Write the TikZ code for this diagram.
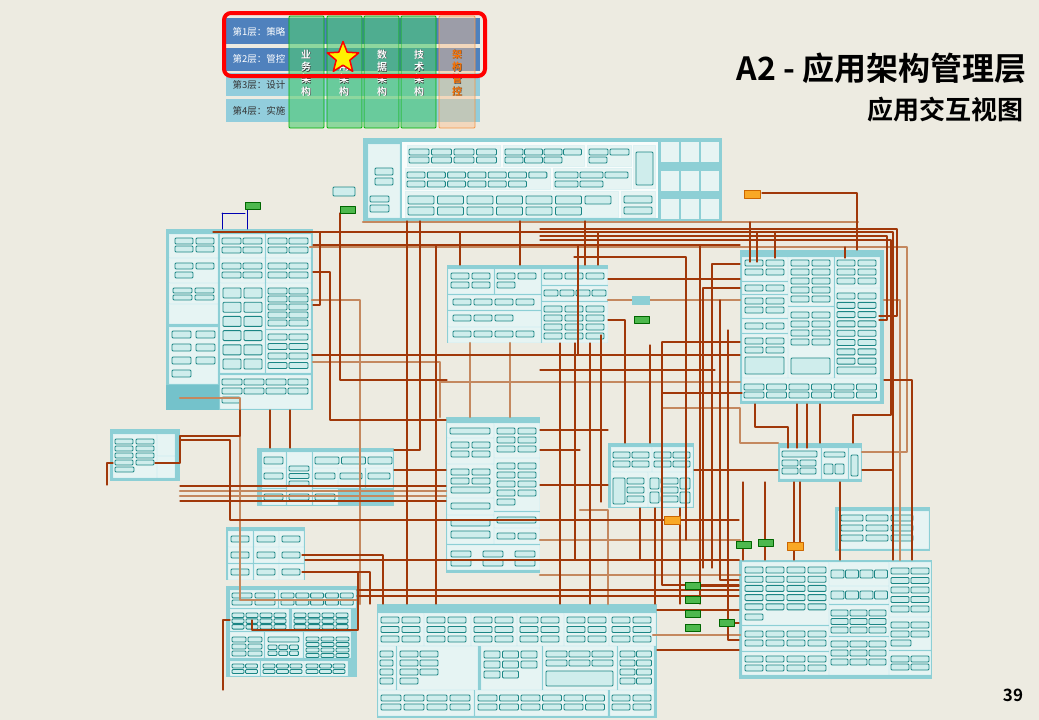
\documentclass[tikz,border=0pt]{standalone}
\usepackage{fontspec}
\newfontfamily\cjk{Noto Sans CJK SC}[BoldFont={Noto Sans CJK SC Bold}]
\usetikzlibrary{shapes.geometric}
\definecolor{bgbeige}{HTML}{EDEBE1}
\definecolor{pnlteal}{HTML}{8DCFD5}
\definecolor{pnldeep}{HTML}{74C2CB}
\definecolor{subpale}{HTML}{E6F4F3}
\definecolor{bxfill}{HTML}{CFEDEC}
\definecolor{bxedge}{HTML}{1A8584}
\definecolor{lnkdark}{HTML}{A0380A}
\definecolor{lnklight}{HTML}{C4885F}
\definecolor{lyrdark}{HTML}{4F81BD}
\definecolor{lyrlight}{HTML}{92CDDC}
\definecolor{colgreen}{HTML}{4FCB72}
\definecolor{colorange}{HTML}{F79646}
\definecolor{mkgreen}{HTML}{4DB84D}
\definecolor{mkorange}{HTML}{F9A825}
\tikzset{
  every picture/.style={line cap=round, line join=round},
  pnl/.style={fill=pnlteal},
  subp/.style={fill=subpale, draw=white!70!pnlteal, line width=0.6pt},
  bx/.style={fill=bxfill, draw=bxedge, line width=0.9pt, rounded corners=1pt},
  lnkd/.style={draw=lnkdark, line width=1.3pt},
  lnkl/.style={draw=lnklight, line width=2.4pt},
  mkg/.style={fill=mkgreen, draw=green!40!black, line width=0.6pt},
  mko/.style={fill=mkorange, draw=orange!80!black, line width=0.6pt},
  lyr/.style={anchor=west, font=\cjk\fontsize{9.5}{10}\selectfont},
  colbar/.style={fill=colgreen, fill opacity=0.6, draw=green!70!black, line width=0.8pt},
  colch/.style={font=\cjk\bfseries\fontsize{10}{11}\selectfont},
}
% panel / sub-panel / box helpers (pixel units)
\newcommand{\pnl}[4]{\fill[pnl] (#1,#2) rectangle (#3,#4);}
\newcommand{\subpnl}[4]{\draw[subp] (#1,#2) rectangle (#3,#4);}
\newcommand{\onebx}[4]{\draw[bx] (#1,#2) rectangle (#3,#4);}
% x0, y0, cols, rows, w, h, dx, dy
\newcommand{\bxgrid}[8]{%
  \foreach \ci in {1,...,#3}{\foreach \rj in {1,...,#4}{%
    \draw[bx] ({#1+(\ci-1)*(#7)},{#2+(\rj-1)*(#8)}) rectangle ++(#5,#6);}}}

\begin{document}
\begin{tikzpicture}[x=1pt, y=-1pt]
  \fill[bgbeige] (0,0) rectangle (1039,720);
  \useasboundingbox (0,0) rectangle (1039,720);
  % ---- top panel
  \pnl{363}{138}{722}{221}
  \subpnl{368}{144}{399}{217}
  \onebx{375}{168}{393}{175} \onebx{375}{178}{393}{185}
  \onebx{370}{196}{389}{202} \onebx{370}{205}{389}{212}
  \fill[white!70!subpale] (402,142) rectangle (658,218);
  \subpnl{407}{145}{500}{166} \bxgrid{409}{149}{4}{2}{20}{6}{22.5}{8}
  \subpnl{503}{145}{584}{166} \bxgrid{505}{149}{4}{1}{18}{6}{19.5}{8} \bxgrid{505}{157}{3}{1}{18}{6}{19.5}{8}
  \subpnl{587}{145}{631}{166} \bxgrid{589}{149}{2}{1}{19}{6}{21}{8} \onebx{589}{157}{607}{163}
  \subpnl{633}{145}{655}{188} \onebx{636}{152}{653}{185}
  \subpnl{405}{168}{550}{189} \bxgrid{407}{172}{7}{1}{18}{6}{20.3}{9} \bxgrid{407}{181}{6}{1}{18}{6}{20.3}{9}
  \subpnl{553}{168}{631}{189} \bxgrid{555}{172}{3}{1}{23}{6}{25}{9} \bxgrid{555}{181}{2}{1}{23}{6}{25}{9}
  \subpnl{405}{191}{618}{217} \bxgrid{408}{196}{7}{1}{26}{8}{29.5}{11} \bxgrid{408}{207}{6}{1}{26}{8}{29.5}{11}
  \subpnl{621}{191}{655}{217} \bxgrid{624}{196}{1}{2}{28}{7}{1}{11}
  \foreach \tx in {661,681,701}{\foreach \ty in {142,171,199}{\fill[subpale] (\tx,\ty) rectangle ++(18,20);}}
  % ---- left big panel
  \pnl{166}{229}{313}{410}
  \fill[pnldeep] (166,385) rectangle (219,410);
  \subpnl{169}{234}{217}{257} \bxgrid{175}{238}{2}{2}{18}{6}{21}{8}
  \subpnl{220}{234}{264}{257} \bxgrid{222}{238}{2}{2}{19}{6}{21}{9}
  \subpnl{266}{234}{310}{257} \bxgrid{268}{238}{2}{2}{19}{6}{21}{9}
  \subpnl{169}{258}{217}{282} \bxgrid{175}{263}{2}{1}{18}{6}{21}{8} \onebx{175}{272}{193}{278}
  \subpnl{220}{258}{264}{282} \bxgrid{222}{263}{2}{2}{19}{6}{21}{9}
  \subpnl{266}{258}{310}{282} \bxgrid{268}{263}{2}{2}{19}{6}{21}{9}
  \subpnl{169}{283}{217}{303} \bxgrid{173}{288}{2}{2}{19}{5}{22}{7}
  \subpnl{169}{304}{217}{323}
  \subpnl{220}{283}{264}{372} \bxgrid{223}{288}{2}{6}{18}{10}{21}{14.2}
  \subpnl{266}{283}{310}{328} \bxgrid{268}{288}{2}{5}{19}{6}{21}{8}
  \subpnl{266}{330}{310}{372} \bxgrid{268}{334}{2}{4}{19}{6}{21}{9.5}
  \subpnl{169}{327}{217}{383} \bxgrid{172}{331}{2}{3}{19}{7}{24}{13} \onebx{172}{370}{191}{377}
  \subpnl{220}{375}{310}{408} \bxgrid{222}{379}{4}{2}{20}{6}{22}{9} \onebx{222}{397}{240}{403}
  % ---- middle panel
  \pnl{447}{265}{608}{343}
  \subpnl{448}{269}{493}{293} \bxgrid{451}{273}{2}{2}{18}{6}{21}{9}
  \subpnl{495}{269}{540}{293} \bxgrid{497}{273}{2}{1}{18}{6}{21}{9} \onebx{497}{282}{515}{288}
  \subpnl{448}{295}{540}{309} \bxgrid{453}{299}{4}{1}{18}{6}{21}{9}
  \subpnl{448}{311}{540}{326} \bxgrid{453}{315}{3}{1}{18}{6}{21}{9}
  \subpnl{448}{327}{540}{342} \bxgrid{453}{331}{4}{1}{18}{6}{21}{9}
  \subpnl{542}{269}{607}{284} \bxgrid{544}{273}{3}{1}{18}{6}{21}{9}
  \subpnl{542}{286}{607}{300} \bxgrid{544}{290}{4}{1}{14}{6}{16}{9}
  \subpnl{542}{302}{607}{342} \bxgrid{544}{306}{3}{4}{18}{6}{21}{9}
  % ---- right panel
  \pnl{740}{250}{884}{404}
  \subpnl{742}{257}{787}{280} \bxgrid{745}{260}{2}{2}{18}{6}{21}{9}
  \subpnl{742}{282}{787}{293} \bxgrid{745}{285}{2}{1}{18}{6}{21}{9}
  \subpnl{742}{295}{787}{317} \bxgrid{745}{298}{2}{2}{18}{6}{21}{9}
  \subpnl{742}{319}{787}{332} \bxgrid{745}{323}{2}{1}{18}{6}{21}{9}
  \subpnl{742}{334}{787}{377} \bxgrid{745}{338}{2}{2}{18}{6}{21}{9} \onebx{745}{357}{784}{374}
  \subpnl{788}{257}{833}{305} \bxgrid{791}{260}{2}{5}{18}{6}{21}{9}
  \subpnl{788}{307}{833}{377} \bxgrid{791}{312}{2}{4}{18}{6}{21}{9} \onebx{791}{358}{830}{374}
  \subpnl{835}{257}{879}{287} \bxgrid{837}{260}{2}{3}{18}{6}{21}{9}
  \subpnl{835}{288}{879}{377} \bxgrid{837}{293}{2}{8}{18}{6}{21}{9.3} \onebx{837}{367}{876}{374}
  \subpnl{742}{378}{879}{400} \bxgrid{744}{384}{6}{2}{20}{6}{22.5}{8}
  % ---- middle lower panel
  \pnl{446}{417}{540}{573}
  \subpnl{447}{423}{493}{437} \onebx{450}{428}{490}{434}
  \subpnl{447}{438}{493}{463} \bxgrid{451}{442}{2}{2}{18}{6}{21}{9}
  \subpnl{447}{464}{493}{497} \bxgrid{451}{469}{2}{2}{18}{6}{21}{9} \onebx{451}{487}{490}{493}
  \subpnl{447}{498}{493}{514} \onebx{451}{503}{490}{509}
  \subpnl{447}{515}{493}{543} \onebx{451}{520}{490}{526} \onebx{451}{531}{490}{538}
  \subpnl{494}{423}{539}{457} \bxgrid{497}{428}{2}{3}{18}{6}{21}{9}
  \subpnl{494}{458}{539}{510} \bxgrid{497}{463}{2}{4}{18}{6}{21}{9} \onebx{497}{499}{515}{505}
  \subpnl{494}{512}{539}{527} \onebx{497}{517}{536}{523}
  \subpnl{494}{528}{539}{543} \bxgrid{497}{533}{2}{1}{18}{6}{21}{9}
  \subpnl{447}{545}{539}{569} \bxgrid{451}{551}{3}{2}{20}{6}{32}{9}
  % ---- small panels
  \pnl{110}{429}{180}{481}
  \subpnl{113}{434}{156}{477} \bxgrid{115}{439}{2}{4}{18}{5}{21}{7} \onebx{115}{467}{134}{472}
  \subpnl{157}{434}{174}{455} \subpnl{157}{456}{174}{477}
  \pnl{257}{448}{394}{506}
  \subpnl{262}{452}{285}{467} \onebx{264}{457}{283}{464}
  \subpnl{287}{452}{311}{488} \bxgrid{289}{466}{1}{3}{20}{5}{1}{7.5}
  \subpnl{313}{452}{392}{467} \bxgrid{315}{457}{3}{1}{24}{7}{26.5}{1}
  \subpnl{262}{468}{285}{487} \onebx{264}{473}{283}{479}
  \subpnl{313}{468}{337}{487} \onebx{315}{473}{335}{479}
  \subpnl{338}{468}{364}{487} \onebx{340}{473}{362}{479}
  \subpnl{366}{468}{392}{487} \onebx{368}{473}{390}{479}
  \subpnl{262}{489}{285}{504} \onebx{264}{494}{283}{500}
  \subpnl{287}{489}{311}{504} \onebx{289}{494}{309}{500}
  \subpnl{313}{489}{337}{504} \onebx{315}{494}{335}{500}
  \pnl{608}{443}{694}{508}
  \subpnl{611}{447}{651}{471} \bxgrid{613}{452}{2}{2}{17}{6}{19}{9}
  \subpnl{652}{447}{692}{471} \bxgrid{654}{452}{2}{2}{17}{6}{19}{9}
  \subpnl{611}{472}{647}{506} \onebx{613}{478}{625}{504} \bxgrid{627}{478}{1}{3}{17}{6}{1}{9}
  \subpnl{648}{472}{692}{506} \bxgrid{650}{478}{1}{2}{9}{11}{1}{14} \bxgrid{661}{478}{1}{3}{17}{6}{1}{9} \bxgrid{680}{478}{1}{2}{10}{11}{1}{14}
  \pnl{778}{443}{862}{482}
  \subpnl{780}{448}{820}{478} \onebx{782}{451}{817}{457} \bxgrid{782}{460}{2}{2}{16}{6}{18}{8}
  \subpnl{822}{448}{847}{478} \onebx{824}{452}{845}{457} \bxgrid{824}{464}{2}{1}{9}{10}{11}{1}
  \subpnl{849}{448}{860}{478} \onebx{851}{455}{858}{476}
  \pnl{835}{507}{930}{551}
  \subpnl{838}{511}{928}{548} \bxgrid{841}{515}{3}{3}{22}{6}{25}{10}
  \pnl{226}{527}{305}{580}
  \foreach \px in {228,254,279}{\foreach \py in {531,547,564}{%
    \draw[subp] (\px,\py) rectangle ++(24,15); \draw[bx] ({\px+3},{\py+5}) rectangle ++(18,6);}}
  \pnl{226}{586}{357}{677}
  \subpnl{230}{590}{277}{607} \bxgrid{232}{593}{2}{2}{20}{5}{23}{7}
  \subpnl{279}{590}{355}{607} \bxgrid{281}{593}{5}{2}{13}{5}{14.8}{7}
  \subpnl{230}{609}{288}{630} \bxgrid{232}{613}{4}{3}{12}{4.5}{14}{5.8}
  \subpnl{292}{609}{350}{630} \bxgrid{294}{613}{4}{3}{12}{4.5}{14}{5.8}
  \subpnl{230}{632}{263}{657} \bxgrid{232}{637}{2}{3}{14}{5}{16}{7}
  \subpnl{265}{632}{302}{657} \onebx{268}{637}{299}{642} \bxgrid{268}{645}{3}{2}{9}{4.5}{10.7}{6}
  \subpnl{304}{632}{350}{657} \bxgrid{306}{637}{3}{4}{13}{4}{15}{5.5}
  \subpnl{230}{661}{259}{675} \bxgrid{232}{664}{2}{2}{12}{4}{13.5}{5.5}
  \subpnl{261}{661}{303}{675} \bxgrid{263}{664}{3}{2}{12}{4}{13.5}{5.5}
  \subpnl{304}{661}{347}{675} \bxgrid{306}{664}{3}{2}{12}{4}{13.5}{5.5}
  % ---- bottom panel
  \pnl{377}{604}{657}{718}
  \foreach \sx/\ex in {378/423,424/470,471/516,517/563,564/608,609/655}{%
    \subpnl{\sx}{613}{\ex}{645} \bxgrid{\sx+3}{617}{2}{3}{18}{6}{21}{9.5}}
  \subpnl{378}{646}{395}{689} \bxgrid{380}{651}{1}{4}{13}{6}{1}{9}
  \subpnl{397}{646}{477}{689} \bxgrid{400}{651}{2}{3}{18}{6}{20}{9} \onebx{400}{678}{418}{684}
  \subpnl{481}{646}{541}{689} \bxgrid{484}{651}{3}{2}{16}{7}{18.5}{10} \bxgrid{484}{671}{2}{1}{16}{7}{18.5}{10}
  \subpnl{543}{646}{616}{689} \bxgrid{546}{651}{3}{2}{21}{6}{23}{9} \onebx{546}{671}{613}{686}
  \subpnl{618}{646}{653}{689} \bxgrid{620}{651}{2}{4}{15}{6}{16.5}{9}
  \subpnl{378}{690}{473}{715} \bxgrid{381}{695}{4}{2}{20}{6}{23}{9}
  \subpnl{475}{690}{607}{715} \bxgrid{478}{695}{6}{2}{19}{6}{21.5}{9}
  \subpnl{610}{690}{653}{715} \bxgrid{612}{695}{2}{2}{18}{6}{21}{9}
  % ---- bottom right panel
  \pnl{739}{560}{932}{679}
  \subpnl{742}{562}{828}{624} \bxgrid{745}{567}{4}{5}{18}{6}{21}{9.2} \onebx{745}{614}{763}{620}
  \subpnl{742}{626}{828}{650} \bxgrid{745}{631}{4}{2}{18}{6}{21}{9}
  \subpnl{742}{652}{828}{674} \bxgrid{745}{656}{4}{2}{18}{6}{21}{9}
  \subpnl{829}{562}{888}{585} \bxgrid{831}{570}{4}{1}{13}{8}{14.5}{1}
  \subpnl{829}{586}{888}{603} \bxgrid{831}{591}{4}{1}{13}{8}{14.5}{1}
  \subpnl{829}{605}{888}{635} \bxgrid{831}{610}{3}{3}{17}{6}{19}{8.5}
  \subpnl{829}{637}{888}{674} \bxgrid{831}{641}{3}{3}{17}{6}{19}{9}
  \subpnl{889}{562}{930}{616} \bxgrid{891}{568}{2}{5}{18}{6}{20}{9.5}
  \subpnl{889}{617}{930}{649} \bxgrid{891}{622}{2}{2}{18}{6}{20}{9} \onebx{891}{640}{911}{646}
  \subpnl{889}{651}{930}{674} \bxgrid{891}{656}{2}{2}{18}{6}{20}{8}
  % ---- interaction lines (wide, light)
  \draw[lnkl] (363,222) -- (858,222);
  \draw[lnkl] (310,247) -- (907,247) -- (907,452) -- (862,452);
  \draw[lnkl] (313,362) -- (440,362) -- (440,417);
  \draw[lnkl] (470,343) -- (470,417);
  \draw[lnkl] (510,343) -- (510,417);
  \draw[lnkl] (440,382) -- (740,382);
  \draw[lnkl] (540,540) -- (740,540);
  \draw[lnkl] (540,575) -- (740,575);
  \draw[lnkl] (653,635) -- (740,635);
  \draw[lnkl] (180,398) -- (240,398) -- (240,600) -- (357,600);
  \draw[lnkl] (312,300) -- (360,300) -- (360,604);
  \draw[lnkl] (884,300) -- (900,300) -- (900,560);
  \draw[lnkl] (608,300) -- (740,300);
  \draw[lnkl] (180,491) -- (446,491);
  \draw[lnkl] (180,496) -- (446,496);
  \draw[lnkl] (662,408) -- (740,408) -- (740,443) -- (778,443);
  \draw[lnkl] (580,510) -- (608,510) -- (608,604);
  % ---- interaction lines (thin, dark)
  \draw[lnkd] (762,193) -- (857,193) -- (857,250);
  \draw[lnkd] (213,232) -- (893,232) -- (893,560);
  \draw[lnkd] (540,229) -- (897,229) -- (897,316) -- (879,316);
  \draw[lnkd] (540,236) -- (887,236) -- (887,320) -- (879,320);
  \draw[lnkd] (540,240) -- (891,240) -- (891,415) -- (853,415) -- (853,443);
  \draw[lnkd] (750,222) -- (750,262);
  \draw[lnkd] (757,232) -- (757,262);
  \draw[lnkd] (775,232) -- (775,258);
  \draw[lnkd] (845,247) -- (845,258);
  \draw[lnkd] (407,221) -- (407,604);
  \draw[lnkd] (420,221) -- (420,450) -- (394,450);
  \draw[lnkd] (436,245) -- (436,604);
  \draw[lnkd] (313,245) -- (740,245);
  \draw[lnkd] (585,221) -- (585,265);
  \draw[lnkd] (598,232) -- (598,265);
  \draw[lnkd] (520,221) -- (520,265);
  \draw[lnkd] (460,232) -- (460,265);
  \draw[lnkd] (574,257) -- (686,257) -- (686,540);
  \draw[lnkd] (578,245) -- (578,355) -- (540,355);
  \draw[lnkd] (740,264) -- (712,264) -- (712,568);
  \draw[lnkd] (740,288) -- (703,288) -- (703,568);
  \draw[lnkd] (608,279) -- (740,279);
  \draw[lnkd] (662,342) -- (740,342);
  \draw[lnkd] (662,342) -- (662,585) -- (739,585);
  \draw[lnkd] (540,370) -- (715,370);
  \draw[lnkd] (662,393) -- (742,393);
  \draw[lnkd] (755,404) -- (755,427) -- (788,427) -- (788,448);
  \draw[lnkd] (797,404) -- (797,448);
  \draw[lnkd] (807,404) -- (807,448);
  \draw[lnkd] (560,343) -- (560,604);
  \draw[lnkd] (575,343) -- (575,560) -- (739,560);
  \draw[lnkd] (590,343) -- (590,604);
  \draw[lnkd] (601,335) -- (601,502);
  \draw[lnkd] (608,320) -- (625,320) -- (625,443);
  \draw[lnkd] (700,245) -- (700,604);
  \draw[lnkd] (720,300) -- (720,580) -- (739,580);
  \draw[lnkd] (728,330) -- (728,640) -- (739,640);
  \draw[lnkd] (312,355) -- (740,355);
  \draw[lnkd] (313,272) -- (330,272) -- (330,420) -- (446,420);
  \draw[lnkd] (180,440) -- (230,440) -- (230,520) -- (739,520);
  \draw[lnkd] (155,463) -- (180,463) -- (180,436) -- (240,436) -- (240,410);
  \draw[lnkd] (113,463) -- (107,463) -- (107,485);
  \draw[lnkd] (180,486) -- (446,486);
  \draw[lnkd] (180,501) -- (446,501);
  \draw[lnkd] (305,560) -- (739,560);
  \draw[lnkd] (357,590) -- (739,590);
  \draw[lnkd] (357,596) -- (739,596);
  \draw[lnkd] (394,470) -- (446,470);
  \draw[lnkd] (540,430) -- (608,430);
  \draw[lnkd] (540,485) -- (608,485);
  \draw[lnkd] (694,470) -- (778,470);
  \draw[lnkd] (862,470) -- (893,470);
  \draw[lnkd] (657,610) -- (739,610);
  \draw[lnkd] (657,650) -- (739,650);
  \draw[lnkd] (302,555) -- (383,555) -- (383,604);
  \draw[lnkd] (302,572) -- (370,572) -- (370,604);
  \draw[lnkd] (252,620) -- (252,630) -- (358,630) -- (358,573);
  \draw[lnkd] (230,620) -- (223,620) -- (223,690);
  \draw[lnkd] (884,380) -- (912,380) -- (912,560);
  \draw[lnkd] (320,232) -- (320,305) -- (313,305);
  \draw[lnkd] (340,213) -- (340,380) -- (447,380);
  \draw[lnkd] (650,345) -- (650,443);
  \draw[lnkd] (540,450) -- (580,450);
  \draw[lnkd] (640,508) -- (640,560);
  \draw[lnkd] (655,508) -- (655,604);
  \draw[lnkd] (680,508) -- (680,604);
  \draw[lnkd] (743,482) -- (743,541) (743,549) -- (743,560);
  \draw[lnkd] (765,482) -- (765,539) (765,547) -- (765,560);
  \draw[lnkd] (794,482) -- (794,542) (794,550) -- (794,560);
  \draw[lnkd] (800,482) -- (800,542);
  \draw[lnkd] (840,482) -- (840,560);
  \draw[lnkd] (820,404) -- (820,443);
  \draw[lnkd] (270,410) -- (270,448);
  \draw[lnkd] (290,410) -- (290,448);
  \draw[lnkd] (699,586) -- (739,586);
  \draw[lnkd] (734,623) -- (739,623);
  \draw[blue!70!black, line width=1pt] (247,209) -- (247,229);
  \draw[blue!70!black, line width=1pt] (222,213) -- (245,213) (222,213) -- (222,229);
  % ---- small markers
  \onebx{333}{187}{355}{196}
  \fill[pnl] (632,296) rectangle (650,305);
  \foreach \mx/\my in {245/202,340/206,634/316,736/541,758/539,685/582,685/596,685/610,685/624,719/619}
    {\draw[mkg] (\mx,\my) rectangle ++(15,7);}
  \foreach \mx/\my in {744/190,664/516,787/542}
    {\draw[mko] (\mx,\my) rectangle ++(16,8);}
  % ---- layer legend
  \fill[lyrdark] (226,18) rectangle (480,44);
  \fill[lyrdark] (226,48) rectangle (480,71);
  \fill[lyrlight] (226,73) rectangle (480,96);
  \fill[lyrlight] (226,99) rectangle (480,122);
  \node[lyr, text=white] (ly1) at (229,32) {第1层：策略};
  \node[lyr, text=white] (ly2) at (229,59) {第2层：管控};
  \node[lyr, text=black!80] (ly3) at (229,85) {第3层：设计};
  \node[lyr, text=black!80] (ly4) at (229,111) {第4层：实施};
  \foreach \cx in {289,327,364,401}{\draw[colbar, rounded corners=1pt] (\cx,16) rectangle ++(35,112);}
  \draw[fill=colorange!60, fill opacity=0.45, draw=colorange, line width=0.8pt, rounded corners=1pt] (439,16) rectangle (475,128);
  \foreach \cx/\cw in {306/{业,务,架,构},344/{应,用,架,构},382/{数,据,架,构},419/{技,术,架,构}}{%
    \foreach \ch [count=\k] in \cw{%
      \node[colch, text=black!80] at (\cx+0.7,{42.7+\k*12.3}) {\ch};
      \node[colch, text=white] at (\cx,{42+\k*12.3}) {\ch};}}
  \foreach \ch [count=\k] in {架,构,管,控}{%
    \node[colch, text=black!70] at (457.7,{42.7+\k*12.3}) {\ch};
    \node[colch, text=orange!90!red] at (457,{42+\k*12.3}) {\ch};}
  \node[star, star points=5, star point ratio=2.3, minimum size=33pt, inner sep=0pt,
        fill=yellow, draw=red, line width=1.5pt] (hub) at (343,58) {};
  \draw[red, line width=4pt, rounded corners=7pt] (224,13) rectangle (485,76);
  % ---- title
  \node[anchor=east, font=\cjk\bfseries\fontsize{32}{34}\selectfont] (ttl) at (1030,68) {A2 - 应用架构管理层};
  \node[anchor=east, font=\cjk\bfseries\fontsize{26}{28}\selectfont] (sub) at (1027,110) {应用交互视图};
  \node[font=\cjk\bfseries\fontsize{17}{18}\selectfont] (pg) at (1013,695) {39};
\end{tikzpicture}
\end{document}
